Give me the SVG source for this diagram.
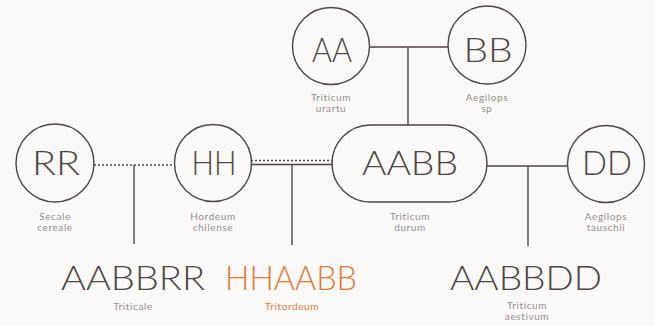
<svg xmlns="http://www.w3.org/2000/svg" width="655" height="326" viewBox="0 0 655 326">
<style>
.n{fill:none;stroke:#4d4547;stroke-width:1.4}
.c{stroke:#4d4547;stroke-width:1.4;fill:none}
.d{stroke:#4d4547;stroke-width:1.6;fill:none;stroke-dasharray:2 2}
.big{font-family:Lato,"Liberation Sans",sans-serif;font-weight:300;font-size:33px;fill:#4d4547;text-anchor:middle}
.lab{font-family:Lato,"Liberation Sans",sans-serif;font-weight:400;font-size:10px;letter-spacing:0.6px;fill:#958e90;text-anchor:middle}
.or{fill:#e07a36}
</style>
<rect width="655" height="326" fill="#fbf9f8"/>
<g id="connectors">
<line class="c" x1="370" y1="47" x2="448" y2="47"/>
<line class="c" x1="408" y1="47" x2="408" y2="125"/>
<line class="d" x1="94" y1="165" x2="175" y2="165"/>
<line class="c" x1="134" y1="165" x2="134" y2="244"/>
<line class="d" x1="251" y1="160.5" x2="333" y2="160.5"/>
<line class="c" x1="251" y1="164.5" x2="333" y2="164.5"/>
<line class="c" x1="292" y1="164.5" x2="292" y2="245"/>
<line class="c" x1="487" y1="166" x2="568" y2="166"/>
<line class="c" x1="528" y1="166" x2="528" y2="246"/>
</g>
<g id="AA">
<circle class="n" cx="331" cy="46" r="38.5"/>
<text class="big" x="332" y="62" textLength="40" lengthAdjust="spacingAndGlyphs">AA</text>
<text class="lab" x="331" y="101">Triticum</text>
<text class="lab" x="331" y="111.5">urartu</text>
</g>
<g id="BB">
<circle class="n" cx="487" cy="45" r="39"/>
<text class="big" x="488" y="62" textLength="49" lengthAdjust="spacingAndGlyphs">BB</text>
<text class="lab" x="487" y="101">Aegilops</text>
<text class="lab" x="487" y="111.5">sp</text>
</g>
<g id="RR">
<circle class="n" cx="55" cy="163" r="39"/>
<text class="big" x="56" y="175" textLength="48" lengthAdjust="spacingAndGlyphs">RR</text>
<text class="lab" x="55" y="220">Secale</text>
<text class="lab" x="55" y="230.5">cereale</text>
</g>
<g id="HH">
<circle class="n" cx="213" cy="163" r="38.5"/>
<text class="big" x="214" y="175" textLength="45" lengthAdjust="spacingAndGlyphs">HH</text>
<text class="lab" x="213" y="220">Hordeum</text>
<text class="lab" x="213" y="230.5">chilense</text>
</g>
<g id="AABB">
<rect class="n" x="332" y="125" width="155" height="77" rx="38.5"/>
<text class="big" x="410" y="175" textLength="96" lengthAdjust="spacingAndGlyphs">AABB</text>
<text class="lab" x="410" y="220">Triticum</text>
<text class="lab" x="410" y="230.5">durum</text>
</g>
<g id="DD">
<circle class="n" cx="606" cy="164" r="38.5"/>
<text class="big" x="607" y="175" textLength="50" lengthAdjust="spacingAndGlyphs">DD</text>
<text class="lab" x="606" y="220">Aegilops</text>
<text class="lab" x="606" y="230.5">tauschii</text>
</g>
<g id="AABBRR">
<text class="big" x="133" y="290" textLength="144" lengthAdjust="spacingAndGlyphs">AABBRR</text>
<text class="lab" x="133" y="310">Triticale</text>
</g>
<g id="HHAABB">
<text class="big or" x="291" y="290" font-weight="400" textLength="132" lengthAdjust="spacingAndGlyphs">HHAABB</text>
<text class="lab or" x="292" y="310">Tritordeum</text>
</g>
<g id="AABBDD">
<text class="big" x="526" y="290" textLength="152" lengthAdjust="spacingAndGlyphs">AABBDD</text>
<text class="lab" x="527" y="309">Triticum</text>
<text class="lab" x="527" y="319.5">aestivum</text>
</g>
</svg>
